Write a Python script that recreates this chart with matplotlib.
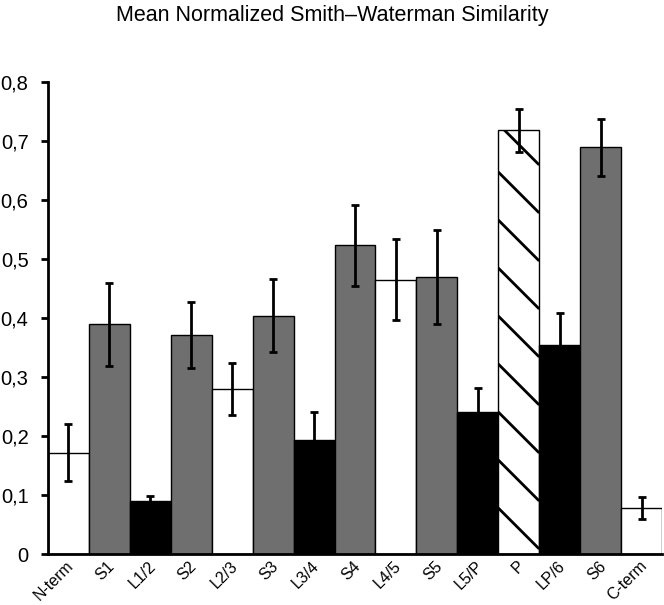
import matplotlib
matplotlib.use("Agg")
import matplotlib.pyplot as plt
import matplotlib.transforms as mtransforms
import numpy as np

categories = ["N-term", "S1", "L1/2", "S2", "L2/3", "S3", "L3/4", "S4", "L4/5",
              "S5", "L5/P", "P", "LP/6", "S6", "C-term"]
values = [0.172, 0.389, 0.089, 0.371, 0.279, 0.404, 0.193, 0.523, 0.465,
          0.469, 0.240, 0.718, 0.354, 0.689, 0.078]
errors = [0.049, 0.071, 0.009, 0.056, 0.044, 0.062, 0.048, 0.068, 0.069,
          0.080, 0.042, 0.037, 0.055, 0.048, 0.019]
kinds = ["loop", "strand", "inner", "strand", "loop", "strand", "inner", "strand",
         "loop", "strand", "inner", "pore", "inner", "strand", "loop"]
yticks = [0, 0.1, 0.2, 0.3, 0.4, 0.5, 0.6, 0.7, 0.8]
yticklabels = ["0", "0,1", "0,2", "0,3", "0,4", "0,5", "0,6", "0,7", "0,8"]
title = "Mean Normalized Smith\u2013Waterman Similarity"

colors = {"loop": "white", "strand": "#6f6f6f", "inner": "black", "pore": "white"}

plt.rcParams['font.family'] = ['Liberation Sans', 'DejaVu Sans']

fig = plt.figure(figsize=(6.64, 6.05), dpi=100)
ax = fig.add_axes([48/664, 1-554/605, 614/664, 472/605])

x = np.arange(len(categories))
bars = ax.bar(x, values, width=1.0, color=[colors[k] for k in kinds],
              edgecolor="black", linewidth=1.0, zorder=2)
ax.errorbar(x, values, yerr=errors, fmt="none", ecolor="black", elinewidth=2.0,
            capsize=2.6, capthick=2.0, zorder=4)

ax.set_xlim(-0.5, len(categories) - 0.5)
ax.set_ylim(0, 0.8)

# sparse diagonal hatch for the pore bar, clipped to the bar
fig.canvas.draw()
for b, k in zip(bars, kinds):
    if k != "pore":
        continue
    x0, x1 = b.get_x(), b.get_x() + b.get_width()
    top = b.get_height()
    p0 = ax.transData.transform((x0, 0))
    p1 = ax.transData.transform((x1, top))
    wpx = p1[0] - p0[0]
    spacing = 48.0
    ys = np.arange(p0[1] + 46, p1[1] + spacing, spacing)
    for yy in ys:
        pts = np.array([[p0[0], yy], [p1[0], yy - wpx]])
        dpts = ax.transData.inverted().transform(pts)
        ln, = ax.plot(dpts[:, 0], dpts[:, 1], color="black", lw=2.0, zorder=3,
                      solid_capstyle="butt")
        ln.set_clip_path(b)

ax.set_yticks(yticks)
ax.set_yticklabels(yticklabels, fontsize=14.5)
ax.set_xticks(x)
ax.set_xticklabels(categories, rotation=45, ha="right", va="center",
                   rotation_mode="anchor", fontsize=11.5)
ax.tick_params(axis="x", length=0, pad=7)
ax.tick_params(axis="y", length=5, width=2, direction="out", pad=9)
offset = mtransforms.ScaledTranslation(3/100, 0, fig.dpi_scale_trans)
for lab in ax.get_xticklabels():
    lab.set_transform(lab.get_transform() + offset)

for s in ["top", "right"]:
    ax.spines[s].set_visible(False)
for s in ["left", "bottom"]:
    ax.spines[s].set_linewidth(2.0)

fig.text(332/664, 1-16/605, title, ha="center", va="center", fontsize=15.5)

fig.savefig("out.png", dpi=100)
